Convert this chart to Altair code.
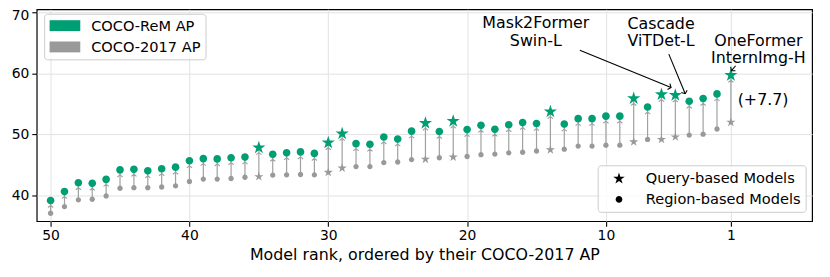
import math
import altair as alt
import pandas as pd

# ---------------- data ----------------
ranks = list(range(50, 0, -1))
coco2017_ap = [37.1, 38.2, 39.3, 39.4, 39.95, 41.2, 41.3, 41.3, 41.4, 41.6,
               42.3, 42.7, 42.7, 42.8, 43.0, 43.1, 43.35, 43.4, 43.45, 43.4,
               43.8, 44.5, 44.75, 44.75, 45.4, 45.5, 45.9, 45.95, 46.2, 46.3,
               46.4, 46.7, 46.8, 47.0, 47.1, 47.3, 47.5, 47.6, 48.1, 48.1,
               48.25, 48.25, 48.8, 49.2, 49.2, 49.6, 49.9, 50.05, 50.9, 52.0]
coco_rem_ap = [39.2, 40.65, 42.1, 42.0, 42.65, 44.2, 44.3, 44.05, 44.4, 44.65,
               45.7, 46.05, 46.0, 46.2, 46.3, 47.85, 46.75, 47.0, 47.15, 46.9,
               48.65, 50.15, 48.5, 48.4, 49.6, 49.25, 50.55, 51.85, 50.5, 52.2,
               50.8, 51.5, 50.85, 51.6, 51.95, 51.8, 53.75, 51.7, 52.6, 52.6,
               53.0, 53.0, 55.9, 54.5, 56.55, 56.45, 55.45, 55.9, 56.65, 59.7]
query_ranks = [35, 30, 29, 23, 21, 14, 8, 6, 5, 1]
type_labels = ["Query-based Models", "Region-based Models"]
series_labels = ["COCO-ReM AP", "COCO-2017 AP"]
x_ticks = [50, 40, 30, 20, 10, 1]
y_ticks = [40, 50, 60, 70]

# annotation texts (text, rank, AP) and arrows (from rank/AP to rank/AP)
ann_text = ["Mask2Former", "Swin-L", "Cascade", "ViTDet-L",
            "OneFormer", "InternImg-H", "(+7.7)"]
ann_rank = [15.05, 15.05, 6.03, 6.03, -0.98, -0.98, -1.32]
ann_ap = [68.26, 65.28, 68.15, 65.23, 65.28, 62.44, 55.66]
arrow_r1 = [11.88, 5.47, 0.66]
arrow_v1 = [63.81, 63.16, 61.26]
arrow_r2 = [5.31, 4.29, 0.96]
arrow_v2 = [57.7, 56.68, 60.45]

# ---------------- styling ----------------
W, H = 783, 214
X_DOMAIN = [51, -4.85]
Y_DOMAIN = [35.8, 70.5]
GREEN = "#009E73"
GRAY = "#999999"
ARROW_GRAY = "#a0a0a0"
FONT = "DejaVu Sans"

STAR = ("M0,-1L0.2245,-0.309L0.951,-0.309L0.363,0.118L0.588,0.809L0,0.382"
        "L-0.588,0.809L-0.363,0.118L-0.951,-0.309L-0.2245,-0.309Z")
CIRCLE = "M-0.55,0A0.55,0.55,0,1,1,0.55,0A0.55,0.55,0,1,1,-0.55,0Z"
CHEVRON = "M-1,0.8L0,0L1,0.8"

df = pd.DataFrame({
    "rank": ranks,
    "ap17": coco2017_ap,
    "aprem": coco_rem_ap,
    "type": [type_labels[0] if r in query_ranks else type_labels[1] for r in ranks],
})

y_axis = alt.Axis(values=y_ticks, title=None, labelPadding=3,
                  labelOffset={"condition": {"test": "datum.value == 70", "value": 3},
                               "value": 0})
x_enc = alt.X("rank:Q",
              scale=alt.Scale(domain=X_DOMAIN, nice=False, zero=False),
              axis=alt.Axis(values=x_ticks, title="Model rank, ordered by their COCO-2017 AP",
                            labelPadding=2, titlePadding=5))
y17 = alt.Y("ap17:Q", scale=alt.Scale(domain=Y_DOMAIN, nice=False, zero=False), axis=y_axis)
yrem = alt.Y("aprem:Q", scale=alt.Scale(domain=Y_DOMAIN, nice=False, zero=False), axis=y_axis)
shape_enc = alt.Shape("type:N", scale=alt.Scale(domain=type_labels, range=[STAR, CIRCLE]),
                      legend=None)

base = alt.Chart(df)

shafts = base.mark_rule(color=ARROW_GRAY, strokeWidth=1.2).encode(
    x=x_enc, y=y17, y2="aprem:Q")
heads = base.mark_point(shape=CHEVRON, filled=False, color=ARROW_GRAY, strokeWidth=1.1,
                        size=28, yOffset=5, opacity=1).encode(x=x_enc, y=yrem)
gray_pts = base.mark_point(filled=True, color=GRAY, opacity=1, size=96).encode(
    x=x_enc, y=y17, shape=shape_enc)
green_pts = base.mark_point(filled=True, color=GREEN, opacity=1, size=196).encode(
    x=x_enc, y=yrem, shape=shape_enc)

# annotations
ann_df = pd.DataFrame({"text": ann_text, "rank": ann_rank, "ap": ann_ap})
ann = alt.Chart(ann_df).mark_text(font=FONT, fontSize=16, color="black",
                                  align="center", baseline="middle").encode(
    x=alt.X("rank:Q"), y=alt.Y("ap:Q"), text="text:N")

sx = W / (X_DOMAIN[0] - X_DOMAIN[1])
sy = H / (Y_DOMAIN[1] - Y_DOMAIN[0])
angles = []
for r1, v1, r2, v2 in zip(arrow_r1, arrow_v1, arrow_r2, arrow_v2):
    dx = (r1 - r2) * sx
    dy = (v1 - v2) * sy
    angles.append(math.degrees(math.atan2(dx, -dy)) % 360)
arr_df = pd.DataFrame({"r1": arrow_r1, "v1": arrow_v1, "r2": arrow_r2,
                       "v2": arrow_v2, "angle": angles})
arr_lines = alt.Chart(arr_df).mark_rule(color="black", strokeWidth=1.1).encode(
    x="r1:Q", y="v1:Q", x2="r2:Q", y2="v2:Q")
arr_heads = alt.Chart(arr_df).mark_point(shape=CHEVRON, filled=False, color="black",
                                         strokeWidth=1.1, size=40, opacity=1).encode(
    x="r2:Q", y="v2:Q", angle=alt.Angle("angle:Q", scale=None))

# manual legends (pixel positions inside the plot area)
one = alt.InlineData(values=[{}])


def frame(x1, x2, y1, y2):
    return alt.Chart(one).mark_rect(fill="white", fillOpacity=0.8, stroke="#cccccc",
                                    strokeWidth=1, cornerRadius=3).encode(
        x=alt.value(x1), x2=alt.value(x2), y=alt.value(y1), y2=alt.value(y2))


def patch(x1, x2, y1, y2, c):
    return alt.Chart(one).mark_rect(color=c).encode(
        x=alt.value(x1), x2=alt.value(x2), y=alt.value(y1), y2=alt.value(y2))


def label(x, y, t):
    return alt.Chart(one).mark_text(font=FONT, fontSize=14.7, color="black",
                                    align="left", baseline="middle").encode(
        x=alt.value(x), y=alt.value(y), text=alt.value(t))


def symbol(x, y, shp, size):
    return alt.Chart(one).mark_point(shape=shp, filled=True, color="black",
                                     opacity=1, size=size).encode(
        x=alt.value(x), y=alt.value(y))


legend1 = [frame(8, 171, 5, 51),
           patch(13, 44, 11, 22, GREEN), patch(13, 44, 32.5, 43.5, GRAY),
           label(55, 17.5, series_labels[0]), label(55, 39, series_labels[1])]
legend2 = [frame(567, 777, 158, 205),
           symbol(588, 171, STAR, 150), symbol(588, 192, CIRCLE, 150),
           label(615, 171.5, type_labels[0]), label(615, 192.5, type_labels[1])]

chart = alt.layer(shafts, heads, gray_pts, green_pts, arr_lines, arr_heads, ann,
                  *legend1, *legend2).properties(
    width=W, height=H,
    autosize=alt.AutoSizeParams(type="none"),
    padding={"left": 29, "top": 0, "right": 10, "bottom": 55},
).configure_view(
    stroke="black", strokeWidth=1.2
).configure_axis(
    domain=False, grid=True, gridColor="#e2e2e2", gridWidth=1,
    ticks=True, tickColor="black", tickSize=5, tickWidth=1.1,
    labelFont=FONT, labelFontSize=14, labelColor="black",
    titleFont=FONT, titleFontSize=16, titleFontWeight="normal", titleColor="black",
)

chart.save("out.html", embed_options={"renderer": "svg", "actions": False})
